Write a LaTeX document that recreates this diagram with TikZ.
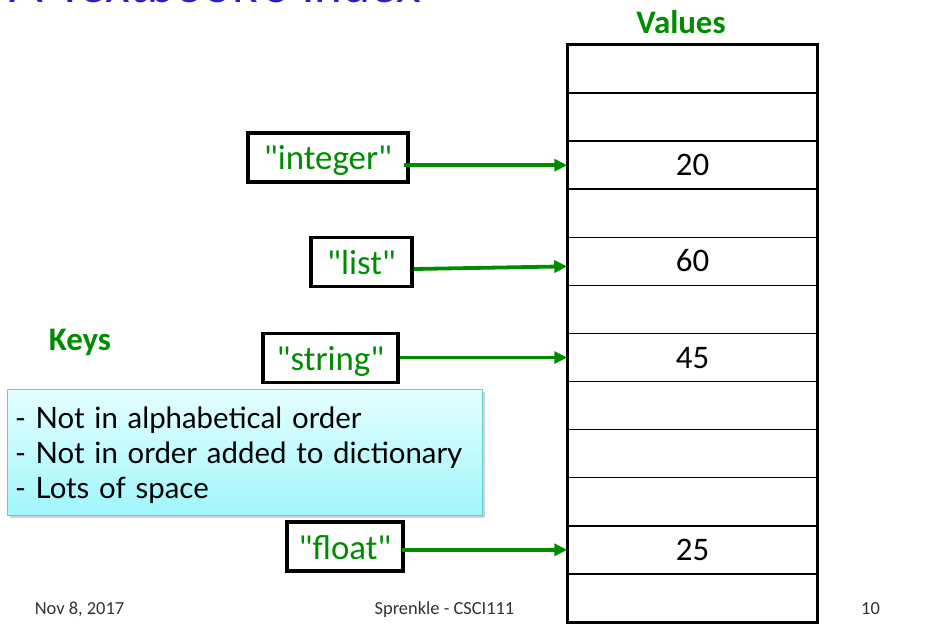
\documentclass[tikz,border=0pt]{standalone}
\usepackage{fontspec}
\setmainfont{Carlito}
\newfontfamily\keyfont{Carlito}[Ligatures=TeXOff]
\newfontfamily\gillfont{Lato}
\usetikzlibrary{arrows.meta,shadows,calc}
\definecolor{keygreen}{RGB}{0,140,0}
\definecolor{titleblue}{RGB}{40,30,200}
\definecolor{calloutborder}{RGB}{100,205,205}
\definecolor{callouttop}{RGB}{228,255,255}
\definecolor{calloutbottom}{RGB}{160,246,252}
\definecolor{footgray}{RGB}{50,50,50}
\begin{document}
\begin{tikzpicture}[x=1bp,y=-1bp,
  cell/.style={draw=black, line width=1.5bp, minimum width=249bp, minimum height=48.08bp,
    inner sep=0pt, font=\fontsize{33}{38}\selectfont, text height=21bp, text depth=0bp},
  keybox/.style={draw=black, line width=3.5bp, text=keygreen, font=\keyfont\fontsize{35}{40}\selectfont,
    inner sep=0pt, minimum height=49bp, text height=28bp, text depth=3bp},
  link/.style={draw=keygreen, line width=3.8bp, -{Triangle[length=13bp,width=12bp]}},
  heading/.style={font=\bfseries\fontsize{33}{38}\selectfont, text=keygreen, inner sep=0pt, anchor=base},
  footer/.style={font=\fontsize{18.5}{22}\selectfont, text=footgray, inner sep=0pt},
  callout/.style={draw=calloutborder, line width=1bp, top color=callouttop, bottom color=calloutbottom,
    drop shadow={shadow xshift=2.5bp, shadow yshift=-2.5bp, opacity=0.35},
    inner sep=0pt, minimum width=475bp, minimum height=126bp, anchor=north west},
  notetext/.style={font=\gillfont\fontsize{29.5}{35}\selectfont, align=left, text width=460bp, inner sep=0pt}
]
\useasboundingbox (0,0) rectangle (929,633);

\node[anchor=base west, text=titleblue, font=\gillfont\fontsize{50}{56}\selectfont, inner sep=0pt] (title) at (9,3) {A Textbook’s Index};

\node[heading] (values) at (681,34) {Values};
\node[heading] (keys) at (80,350) {Keys};

% table of values
\node[cell] (c1)  at (692.5,69.04)  {};
\node[cell] (c2)  at (692.5,117.12) {};
\node[cell] (c3)  at (692.5,165.20) {20};
\node[cell] (c4)  at (692.5,213.28) {};
\node[cell] (c5)  at (692.5,261.36) {60};
\node[cell] (c6)  at (692.5,309.44) {};
\node[cell] (c7)  at (692.5,357.52) {45};
\node[cell] (c8)  at (692.5,405.60) {};
\node[cell] (c9)  at (692.5,453.68) {};
\node[cell] (c10) at (692.5,501.76) {};
\node[cell] (c11) at (692.5,549.84) {25};
\node[cell] (c12) at (692.5,597.92) {};
\draw[line width=3bp] (c1.north west) rectangle (c12.south east);

% keys
\node[keybox, minimum width=160bp] (kint)    at (328,157.5)  {"integer"};
\node[keybox, minimum width=101bp] (klist)   at (361.5,262)  {"list"};
\node[keybox, minimum width=135bp] (kstring) at (330.5,358)  {"string"};
\node[keybox, minimum width=116bp] (kfloat)  at (345,546.5)  {"float"};

\draw[link] ($(kint.east |- c3.west)+(-6,0)$) -- (c3.west);
\draw[link] ($(klist.east)+(0,7)$) -- ($(c5.west)+(0,5)$);
\draw[link] (kstring.east |- c7.west) -- (c7.west);
\draw[link] ($(kfloat.east |- c11.west)+(-3,0)$) -- (c11.west);

% note
\node[callout] (note) at (7,389) {};
\node[notetext] (notelines) at ($(note.center)+(0,3)$) {- Not in alphabetical order\\- Not in order added to dictionary\\- Lots of space};

% footer
\node[footer] (date) at (79.5,609) {Nov 8, 2017};
\node[footer] (author) at (444.5,610) {Sprenkle - CSCI111};
\node[footer] (page) at (870.5,609) {10};
\end{tikzpicture}
\end{document}
